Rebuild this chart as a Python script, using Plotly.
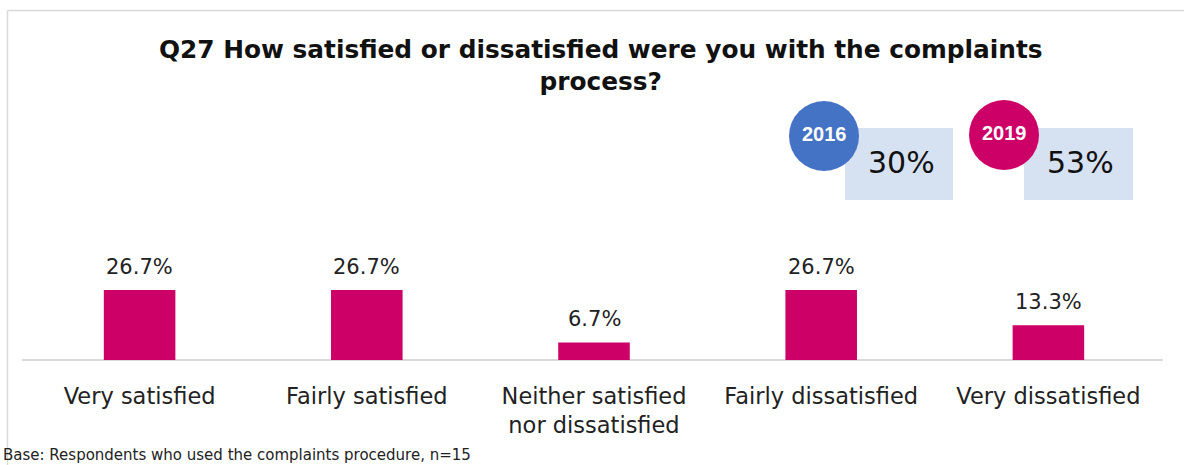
import plotly.graph_objects as go

categories = ["Very satisfied", "Fairly satisfied", "Neither satisfied<br>nor dissatisfied",
              "Fairly dissatisfied", "Very dissatisfied"]
values = [26.7, 26.7, 6.7, 26.7, 13.3]
years = ["2016", "2019"]
satisfied_share = ["30%", "53%"]
year_colors = ["#4472C4", "#CC0066"]

W, H = 1184, 465
BAR = "#CC0066"
FONT = "DejaVu Sans, sans-serif"


def fx(x):
    return x / W


def fy(y):
    return 1 - y / H


fig = go.Figure(go.Bar(
    x=categories, y=values,
    marker=dict(color=BAR, line=dict(width=0)),
    width=0.315, hoverinfo="x+y",
))

shapes, annotations = [], []

# value labels above each bar
for c, v in zip(categories, values):
    annotations.append(dict(x=c, y=v, xref="x", yref="y", text=f"{v:.1f}%", showarrow=False,
                            xanchor="center", yanchor="bottom", yshift=9,
                            font=dict(size=21, color="#222", family=FONT)))

# outer frame lines (left and top)
shapes.append(dict(type="line", xref="paper", yref="paper", x0=fx(7.5), x1=fx(7.5),
                   y0=fy(10.5), y1=0, line=dict(color="#d9d9d9", width=1.5)))
shapes.append(dict(type="line", xref="paper", yref="paper", x0=fx(7.5), x1=1,
                   y0=fy(10.5), y1=fy(10.5), line=dict(color="#d9d9d9", width=1.5)))
# category baseline
shapes.append(dict(type="line", xref="paper", yref="paper", x0=fx(22), x1=fx(1163),
                   y0=fy(360), y1=fy(360), line=dict(color="#d9d9d9", width=2), layer="below"))

# year badges: shaded box with the share satisfied, circle with the year on top
badges = [(824, 136, 845, 953), (1004, 135, 1024, 1133)]
for (cx, cy, bx0, bx1), yr, share, col in zip(badges, years, satisfied_share, year_colors):
    shapes.append(dict(type="rect", xref="paper", yref="paper",
                       x0=fx(bx0), x1=fx(bx1), y0=fy(200), y1=fy(128),
                       fillcolor="#D6E1F1", line=dict(width=0), layer="below"))
    r = 35
    shapes.append(dict(type="circle", xref="paper", yref="paper",
                       x0=fx(cx - r), x1=fx(cx + r), y0=fy(cy + r), y1=fy(cy - r),
                       fillcolor=col, line=dict(width=0)))
    annotations.append(dict(xref="paper", yref="paper", x=fx(cx), y=fy(cy - 2),
                            xanchor="center", yanchor="middle", text=f"<b>{yr}</b>",
                            showarrow=False,
                            font=dict(size=20, color="white", family="Liberation Sans, Arial")))
    annotations.append(dict(xref="paper", yref="paper", x=fx((bx0 + bx1) / 2 + 2), y=fy(162),
                            xanchor="center", yanchor="middle", text=share, showarrow=False,
                            font=dict(size=30, color="#111", family=FONT)))

annotations.append(dict(xref="paper", yref="paper", x=fx(601), y=fy(65),
                        xanchor="center", yanchor="middle",
                        text="<b>Q27 How satisfied or dissatisfied were you with the complaints<br>process?</b>",
                        showarrow=False, font=dict(size=24.8, color="#111", family=FONT),
                        align="center"))
annotations.append(dict(xref="paper", yref="paper", x=fx(1), y=fy(455),
                        xanchor="left", yanchor="middle",
                        text="Base: Respondents who used the complaints procedure, n=15",
                        showarrow=False, font=dict(size=15, color="#222", family=FONT)))

fig.update_layout(
    width=W, height=H, margin=dict(l=0, r=0, t=0, b=0, autoexpand=False),
    paper_bgcolor="white", plot_bgcolor="white",
    showlegend=False, shapes=shapes, annotations=annotations,
    xaxis=dict(domain=[fx(26), fx(1162)], showgrid=False, showline=False,
               ticks="", ticklabelstandoff=20,
               tickfont=dict(size=22.5, color="#222", family=FONT), fixedrange=True),
    yaxis=dict(domain=[fy(360), fy(230)], range=[0, 49.6], visible=False, fixedrange=True),
)

fig.write_html("out.html")
